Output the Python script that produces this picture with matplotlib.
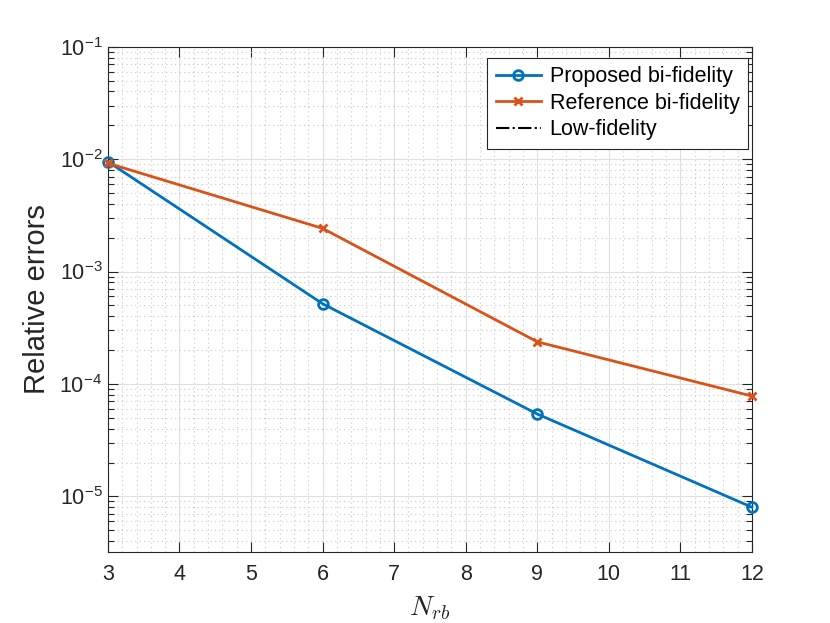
import math
import matplotlib.pyplot as plt
from matplotlib.ticker import LogLocator, MultipleLocator, NullFormatter, FixedLocator

# data
n_rb = [3, 6, 9, 12]
err_proposed = [9.5e-3, 5.17e-4, 5.4e-5, 8.0e-6]
err_reference = [9.2e-3, 2.42e-3, 2.37e-4, 7.8e-5]
err_low = []  # low-fidelity curve is only in the legend

blue = "#0072BD"
orange = "#D95319"
axcol = "#262626"

plt.rcParams['font.family'] = ['Liberation Sans', 'DejaVu Sans']
plt.rcParams['mathtext.fontset'] = 'cm'

fig = plt.figure(figsize=(8.3, 6.23), dpi=100)
ax = fig.add_axes([0.13, 0.114, 0.776, 0.811])

ax.plot(n_rb, err_proposed, '-o', color=blue, lw=2, ms=7, mew=2,
        mfc='none', label='Proposed bi-fidelity', clip_on=False, zorder=3)
ax.plot(n_rb, err_reference, '-x', color=orange, lw=2, ms=6, mew=2,
        label='Reference bi-fidelity', clip_on=False, zorder=3)
ax.plot(err_low, err_low, '-.', color='black', lw=1.5, label='Low-fidelity')

ax.set_yscale('log')
ax.set_xlim(3, 12)
ax.set_ylim(3.2e-6, 1e-1)

ax.xaxis.set_major_locator(MultipleLocator(1))
ax.xaxis.set_minor_locator(MultipleLocator(0.2))
ax.yaxis.set_major_locator(FixedLocator([1e-5, 1e-4, 1e-3, 1e-2, 1e-1]))
ax.yaxis.set_minor_locator(LogLocator(base=10, subs=range(2, 10), numticks=20))
ax.yaxis.set_minor_formatter(NullFormatter())
ax.yaxis.set_major_formatter(plt.FuncFormatter(
    lambda v, p: r'10$^{\mathregular{%d}}$' % round(math.log10(v))))

ax.grid(which='major', color='#dfdfdf', lw=0.8, ls='-')
ax.grid(which='minor', color='#c8c8c8', lw=0.8, ls=(0, (1, 3)))
ax.set_axisbelow(True)

ax.tick_params(which='both', direction='in', top=True, right=True,
               colors=axcol, labelsize=15.5)
ax.tick_params(which='major', length=7, width=0.8)
ax.tick_params(which='minor', length=4, width=0.8)
ax.tick_params(axis='x', which='minor', length=0)
ax.tick_params(axis='x', pad=9)
for s in ax.spines.values():
    s.set_color(axcol)
    s.set_linewidth(0.8)

ax.set_xlabel(r'$N_{rb}$', fontsize=20, color=axcol, labelpad=6)
ax.set_ylabel('Relative errors', fontsize=21, color=axcol, labelpad=6)

# legend box sits a bit lower than the corner, as in the reference
leg = ax.legend(loc='upper right', bbox_to_anchor=(0.994, 0.978),
                fontsize=15.5, fancybox=False, framealpha=1,
                edgecolor='#262626', borderaxespad=0.0,
                handlelength=2.1, handletextpad=0.4, labelspacing=0.25,
                borderpad=0.4)
leg.get_frame().set_linewidth(0.8)

fig.savefig('out.png', dpi=100)
